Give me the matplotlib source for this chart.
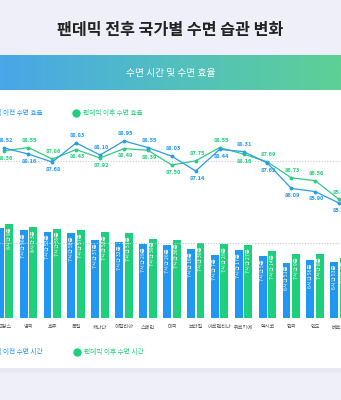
import numpy as np
import matplotlib.pyplot as plt
from matplotlib.patches import Rectangle
from matplotlib.lines import Line2D
from matplotlib.colors import LinearSegmentedColormap

plt.rcParams['font.family'] = ['Noto Sans CJK KR', 'DejaVu Sans']

# Data
countries = ['프랑스', '영국', '호주', '독일', '캐나다', '이탈리아', '스페인', '미국',
             '브라질', '아르헨티나', '튀르키예', '멕시코', '한국', '인도', '베트남']
eff_before = [88.52, 88.16, 87.68, 88.83, 88.10, 88.95, 88.55, 88.03,
              87.14, 88.44, 88.31, 87.62, 86.09, 85.90, 85.21]
eff_after = [88.36, 88.55, 87.86, 88.43, 87.92, 88.49, 88.39, 87.50,
             87.75, 88.55, 88.16, 87.69, 86.73, 86.56, 85.43]
# sleep time in minutes
time_before = [481, 476, 473, 470, 457, 452, 449, 446, 438, 427, 437, 425, 411, 416, 413]
time_after = [489, 483, 479, 477, 472, 471, 459, 456, 450, 449, 447, 434, 429, 428, 421]

blue = '#1e98f2'
green = '#1ecf7c'
bg = '#eeeff8'

W, H = 341, 400
fig = plt.figure(figsize=(W / 100, H / 100), dpi=100)
fig.patch.set_facecolor(bg)

def fy(px):
    return 1 - px / H

# card with soft shadow
for k, a in enumerate([0.03, 0.03, 0.04]):
    fig.patches.append(Rectangle((-0.1, fy(368 + 2 * k)), 1.2, fy(55) - fy(368 + 2 * k),
                                 transform=fig.transFigure, color='#9098c0', alpha=a, zorder=-3))
fig.patches.append(Rectangle((-0.1, fy(367)), 1.2, fy(55) - fy(367),
                             transform=fig.transFigure, color='white', zorder=-2))

# title
fig.text(0.5, fy(30), '팬데믹 전후 국가별 수면 습관 변화', ha='center', va='center',
         fontsize=11.6, fontweight='bold', color='#222222')

# gradient header band
hax = fig.add_axes([0, fy(90), 1, fy(55) - fy(90)])
cmap = LinearSegmentedColormap.from_list('hdr', ['#49a6e8', '#52bfc0', '#5dd095'])
hax.imshow(np.linspace(0, 1, 256).reshape(1, -1), cmap=cmap, aspect='auto', extent=[0, 1, 0, 1])
hax.axis('off')
fig.text(0.5, fy(73), '수면 시간 및 수면 효율', ha='center', va='center',
         fontsize=7, fontweight='medium', color='white')

x = np.arange(len(countries))
ax_left = -7.45 / W
ax_width = 358.5 / W

# line chart: sleep efficiency
lax = fig.add_axes([ax_left, fy(222), ax_width, fy(125) - fy(222)])
lax.set_xlim(-0.5, len(countries) - 0.5)
lax.set_ylim(84.07, 89.91)
lax.axis('off')
lax.axhline(np.mean(eff_before + eff_after), color='#c4c8d4', ls=(0, (1, 1.5)), lw=0.8, zorder=1)
lax.plot(x, eff_before, color='#2a9ce8', lw=0.9, marker='o', ms=1.8, zorder=3)
lax.plot(x, eff_after, color='#2ecb85', lw=0.9, marker='o', ms=1.8, zorder=2)
for i in range(len(countries)):
    b, a = eff_before[i], eff_after[i]
    for v, c, up in [(b, blue, b >= a), (a, green, a > b)]:
        lax.annotate(f'{v:.2f}', (x[i], v), xytext=(1, 3.5 if up else -3.5),
                     textcoords='offset points', ha='center',
                     va='bottom' if up else 'top', fontsize=4.1, color=c,
                     fontweight='bold')

# legend for line chart
fig.text(43 / W, fy(113), '팬데믹 이전 수면 효율', ha='right', va='center', fontsize=4.8, color=blue)
fig.add_artist(Line2D([76 / W], [fy(113)], marker='o', ms=5, color=green, lw=0))
fig.text(83 / W, fy(113), '팬데믹 이후 수면 효율', ha='left', va='center', fontsize=4.8, color=green)

# bar chart: sleep time
bax = fig.add_axes([ax_left, fy(318), ax_width, fy(218) - fy(318)])
bax.set_xlim(-0.5, len(countries) - 0.5)
bax.set_ylim(300, 500)
bax.axis('off')
bw = 0.33
bax.bar(x - 0.2, time_before, width=bw, color=blue, zorder=2)
bax.bar(x + 0.2, time_after, width=bw, color=green, zorder=2)
bax.axhline(np.mean(time_before + time_after), color='#c4c8d4', ls=(0, (1, 1.5)), lw=0.8, zorder=3)
for i in range(len(countries)):
    for xx, v in [(x[i] - 0.2, time_before[i]), (x[i] + 0.2, time_after[i])]:
        bax.annotate(f'{v // 60}시간 {v % 60}분', (xx, v), xytext=(0, -2.5),
                     textcoords='offset points', rotation=90, ha='center', va='top',
                     fontsize=3.8, color='white', zorder=4)
    bax.text(x[i], -0.09, countries[i], transform=bax.get_xaxis_transform(),
             ha='center', va='center', fontsize=3.7, color='#555555')

# legend for bar chart
fig.text(43 / W, fy(352), '팬데믹 이전 수면 시간', ha='right', va='center', fontsize=4.8, color=blue)
fig.add_artist(Line2D([77 / W], [fy(352)], marker='o', ms=5, color=green, lw=0))
fig.text(84 / W, fy(352), '팬데믹 이후 수면 시간', ha='left', va='center', fontsize=4.8, color=green)

fig.savefig('out.png', dpi=100, facecolor=bg)
